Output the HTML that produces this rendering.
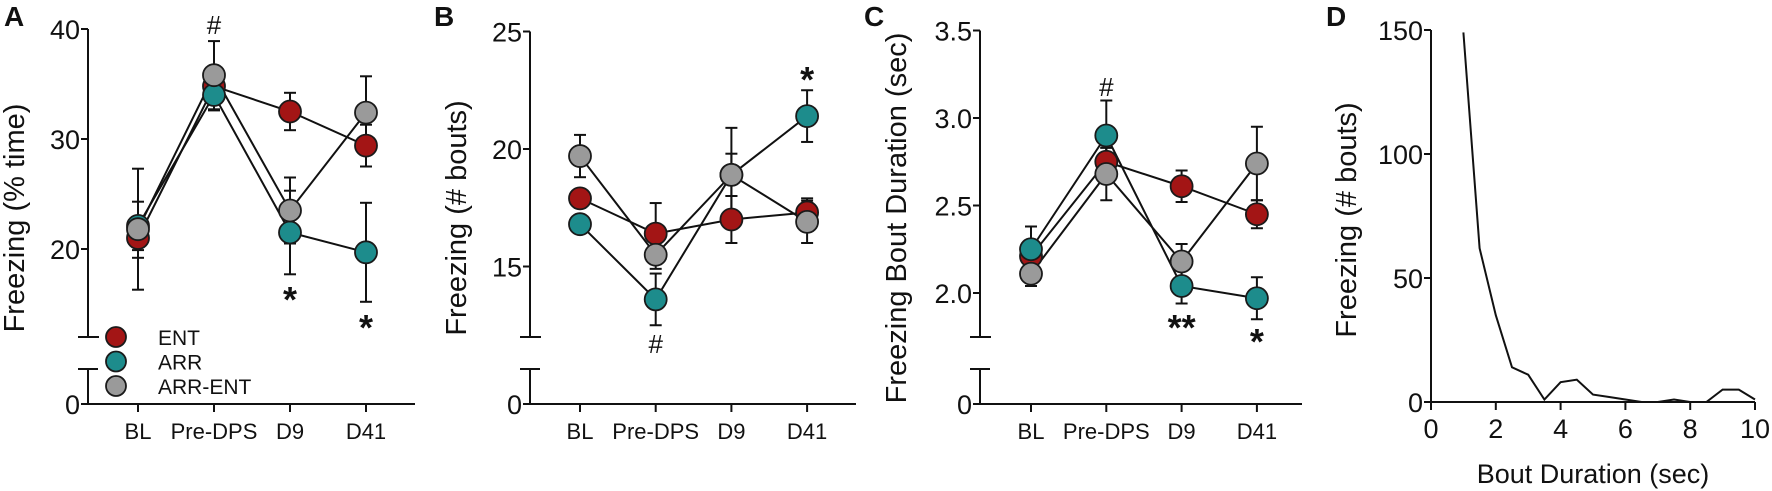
<!DOCTYPE html>
<html><head><meta charset="utf-8">
<style>
html,body{margin:0;padding:0;background:#fff;}
svg{display:block;font-family:"Liberation Sans",sans-serif;}
</style></head>
<body>
<svg id="fig" width="1772" height="491" viewBox="0 0 1772 491" xmlns="http://www.w3.org/2000/svg"></svg>
<script>
// ---- data ----
const categories = ["BL","Pre-DPS","D9","D41"];
const seriesNames = ["ENT","ARR","ARR-ENT"];
const seriesColors = ["#a31515","#1d8c8c","#9a9a9a"];
// Panel A: Freezing (% time)
const aEnt = [21.0, 34.8, 32.5, 29.4];
const aEntErr = [1.8, 1.5, 1.7, 1.9];
const aArr = [22.1, 34.0, 21.5, 19.7];
const aArrErr = [2.2, 1.4, 3.8, 4.5];
const aArrEnt = [21.8, 35.8, 23.5, 32.4];
const aArrEntErr = [5.5, 3.1, 3.0, 3.3];
const aTicks = [20, 30, 40];
// Panel B: Freezing (# bouts)
const bEnt = [17.9, 16.4, 17.0, 17.3];
const bEntErr = [0.4, 1.3, 1.0, 0.6];
const bArr = [16.8, 13.6, 18.9, 21.4];
const bArrErr = [0.2, 1.1, 2.0, 1.1];
const bArrEnt = [19.7, 15.5, 18.9, 16.9];
const bArrEntErr = [0.9, 0.6, 0.9, 0.9];
const bTicks = [15, 20, 25];
// Panel C: Freezing Bout Duration (sec)
const cEnt = [2.21, 2.75, 2.61, 2.45];
const cEntErr = [0.05, 0.08, 0.09, 0.08];
const cArr = [2.25, 2.90, 2.04, 1.97];
const cArrErr = [0.13, 0.20, 0.10, 0.12];
const cArrEnt = [2.11, 2.68, 2.18, 2.74];
const cArrEntErr = [0.07, 0.15, 0.10, 0.21];
const cTicks = [2.0, 2.5, 3.0, 3.5];
// Panel D: histogram of bout durations
const dDur = [1,1.5,2,2.5,3,3.5,4,4.5,5,5.5,6,6.5,7,7.5,8,8.5,9,9.5,10];
const dCount = [149,62,35,14,11,1,8,9,3,2,1,0,0,1,0,0,5,5,1];
const dXTicks = [0,2,4,6,8,10];
const dYTicks = [0,50,100,150];

const svg = document.getElementById('fig');
const NS = "http://www.w3.org/2000/svg";
function mk(tag, attrs, parent){
  const e = document.createElementNS(NS, tag);
  for (const k in attrs) e.setAttribute(k, attrs[k]);
  (parent||svg).appendChild(e);
  return e;
}
function txt(s, x, y, size, anchor, parent, extra){
  const t = mk('text', Object.assign({x:x, y:y, 'font-size':size, 'text-anchor':anchor||'middle', fill:'#111'}, extra||{}), parent);
  t.textContent = s;
  return t;
}

function panel(cfg){
  const g = mk('g', {});
  
  
  const ax = cfg.axisX, X0 = 404;
  const yS = v => cfg.yRef + (cfg.vRef - v) * cfg.pxPerUnit;
  const xS = i => cfg.catX0 + i * cfg.catStep;
  const axes = mk('g', {stroke:'#111','stroke-width':2,fill:'none'}, g);
  
  
  const top = yS(cfg.ticks[cfg.ticks.length-1]);
  mk('line', {x1:ax, y1:top, x2:ax, y2:337}, axes);
  mk('line', {x1:ax-10, y1:337, x2:ax+11, y2:337}, axes);
  mk('line', {x1:ax, y1:369, x2:ax, y2:X0}, axes);
  mk('line', {x1:ax-10, y1:369, x2:ax+10, y2:369}, axes);
  mk('line', {x1:ax, y1:X0, x2:cfg.axisEnd, y2:X0}, axes);
  mk('line', {x1:ax-7, y1:X0, x2:ax, y2:X0}, axes);
  cfg.ticks.forEach(t => {
    mk('line', {x1:ax-7, y1:yS(t), x2:ax, y2:yS(t)}, axes);
    const l = txt(cfg.fmt(t), ax-8, yS(t)+10, 27, 'end', g);
    
    
  });
  txt('0', ax-8, X0+10, 27, 'end', g);
  categories.forEach((c, i) => {
    mk('line', {x1:xS(i), y1:X0, x2:xS(i), y2:X0+8}, axes);
    const l = txt(c, xS(i), 439, 22, 'middle', g);
    
    
  });
  const yt = txt(cfg.yTitle, 0, 0, 29, 'middle', g, {transform:`translate(${cfg.yTitleX},${cfg.yTitleY}) rotate(-90)`});
  
  
  const pl = txt(cfg.letter, cfg.letterX, 26, 28, 'start', g, {'font-weight':'bold'});
  
  
  cfg.series.forEach((s, si) => {
    const eg = mk('g', {stroke:'#111','stroke-width':2}, g);
    
    
    s.vals.forEach((v, i) => {
      const x = xS(i), y1 = yS(v + s.err[i]), y2 = yS(v - s.err[i]);
      mk('line', {x1:x, y1:y1, x2:x, y2:y2}, eg);
      mk('line', {x1:x-6, y1:y1, x2:x+6, y2:y1}, eg);
      mk('line', {x1:x-6, y1:y2, x2:x+6, y2:y2}, eg);
    });
  });
  cfg.series.forEach((s, si) => {
    const pts = s.vals.map((v, i) => xS(i) + ',' + yS(v)).join(' ');
    const ln = mk('polyline', {points:pts, fill:'none', stroke:'#111', 'stroke-width':2}, g);
    
    
  });
  cfg.series.forEach((s, si) => {
    s.vals.forEach((v, i) => {
      const c = mk('circle', {cx:xS(i), cy:yS(v), r:11, fill:seriesColors[si], stroke:'#1a1a1a', 'stroke-width':1.8}, g);
      
      
    });
  });
  cfg.marks.forEach(m => {
    const isHash = m.s[0] === '#';
    const t = txt(m.s, xS(m.i), m.y, isHash ? 26 : 36, 'middle', g, {'font-weight': isHash ? 'normal' : 'bold'});
    
    
  });
  return g;
}

panel({name:'panel-a', letter:'A', letterX:4, axisX:88, axisEnd:415, yRef:249, vRef:20, pxPerUnit:11,
  catX0:138, catStep:76, ticks:aTicks, fmt:v=>String(v), yTitle:'Freezing (% time)', yTitleX:24, yTitleY:218,
  series:[{vals:aEnt,err:aEntErr},{vals:aArr,err:aArrErr},{vals:aArrEnt,err:aArrEntErr}],
  marks:[{s:'#',i:1,y:34},{s:'*',i:2,y:312},{s:'*',i:3,y:340}]});
panel({name:'panel-b', letter:'B', letterX:434, axisX:530, axisEnd:856, yRef:149, vRef:20, pxPerUnit:23.5,
  catX0:580, catStep:75.7, ticks:bTicks, fmt:v=>String(v), yTitle:'Freezing (# bouts)', yTitleX:466, yTitleY:218,
  series:[{vals:bEnt,err:bEntErr},{vals:bArr,err:bArrErr},{vals:bArrEnt,err:bArrEntErr}],
  marks:[{s:'#',i:1,y:353},{s:'*',i:3,y:92}]});
panel({name:'panel-c', letter:'C', letterX:864, axisX:980, axisEnd:1302, yRef:293, vRef:2.0, pxPerUnit:175,
  catX0:1031, catStep:75.3, ticks:cTicks, fmt:v=>v.toFixed(1), yTitle:'Freezing Bout Duration (sec)', yTitleX:906, yTitleY:218,
  series:[{vals:cEnt,err:cEntErr},{vals:cArr,err:cArrErr},{vals:cArrEnt,err:cArrEntErr}],
  marks:[{s:'#',i:1,y:96},{s:'**',i:2,y:340},{s:'*',i:3,y:354}]});

const leg = mk('g', {});


seriesNames.forEach((n, i) => {
  const y = 337 + i * 24.5;
  const c = mk('circle', {cx:116, cy:y, r:10, fill:seriesColors[i], stroke:'#1a1a1a','stroke-width':1.8}, leg);
  
  
  const t = txt(n, 158, y + 8, 21, 'start', leg);
  
  
});

(function(){
  const g = mk('g', {});
  
  
  const ax = 1431, X0 = 402, right = 1755;
  const xS = v => ax + v * (right - ax) / 10;
  const yS = v => X0 - v * (X0 - 30) / 150;
  const axes = mk('g', {stroke:'#111','stroke-width':2,fill:'none'}, g);
  
  
  mk('line', {x1:ax, y1:yS(150), x2:ax, y2:X0}, axes);
  mk('line', {x1:ax, y1:X0, x2:right, y2:X0}, axes);
  dYTicks.forEach(t => {
    mk('line', {x1:ax-7, y1:yS(t), x2:ax, y2:yS(t)}, axes);
    const l = txt(String(t), ax-8, yS(t)+10, 27, 'end', g);
    
    
  });
  dXTicks.forEach(t => {
    mk('line', {x1:xS(t), y1:X0, x2:xS(t), y2:X0+8}, axes);
    const l = txt(String(t), xS(t), X0+36, 27, 'middle', g);
    
    
  });
  const pts = dDur.map((d, i) => xS(d) + ',' + yS(dCount[i])).join(' ');
  const ln = mk('polyline', {points:pts, fill:'none', stroke:'#111','stroke-width':2}, g);
  
  
  const yt = txt('Freezing (# bouts)', 0, 0, 29, 'middle', g, {transform:'translate(1356,220) rotate(-90)'});
  
  
  const xt = txt('Bout Duration (sec)', 1593, 483, 27, 'middle', g);
  
  
  const pl = txt('D', 1326, 26, 28, 'start', g, {'font-weight':'bold'});
  
  
})();
</script>
</body></html>
